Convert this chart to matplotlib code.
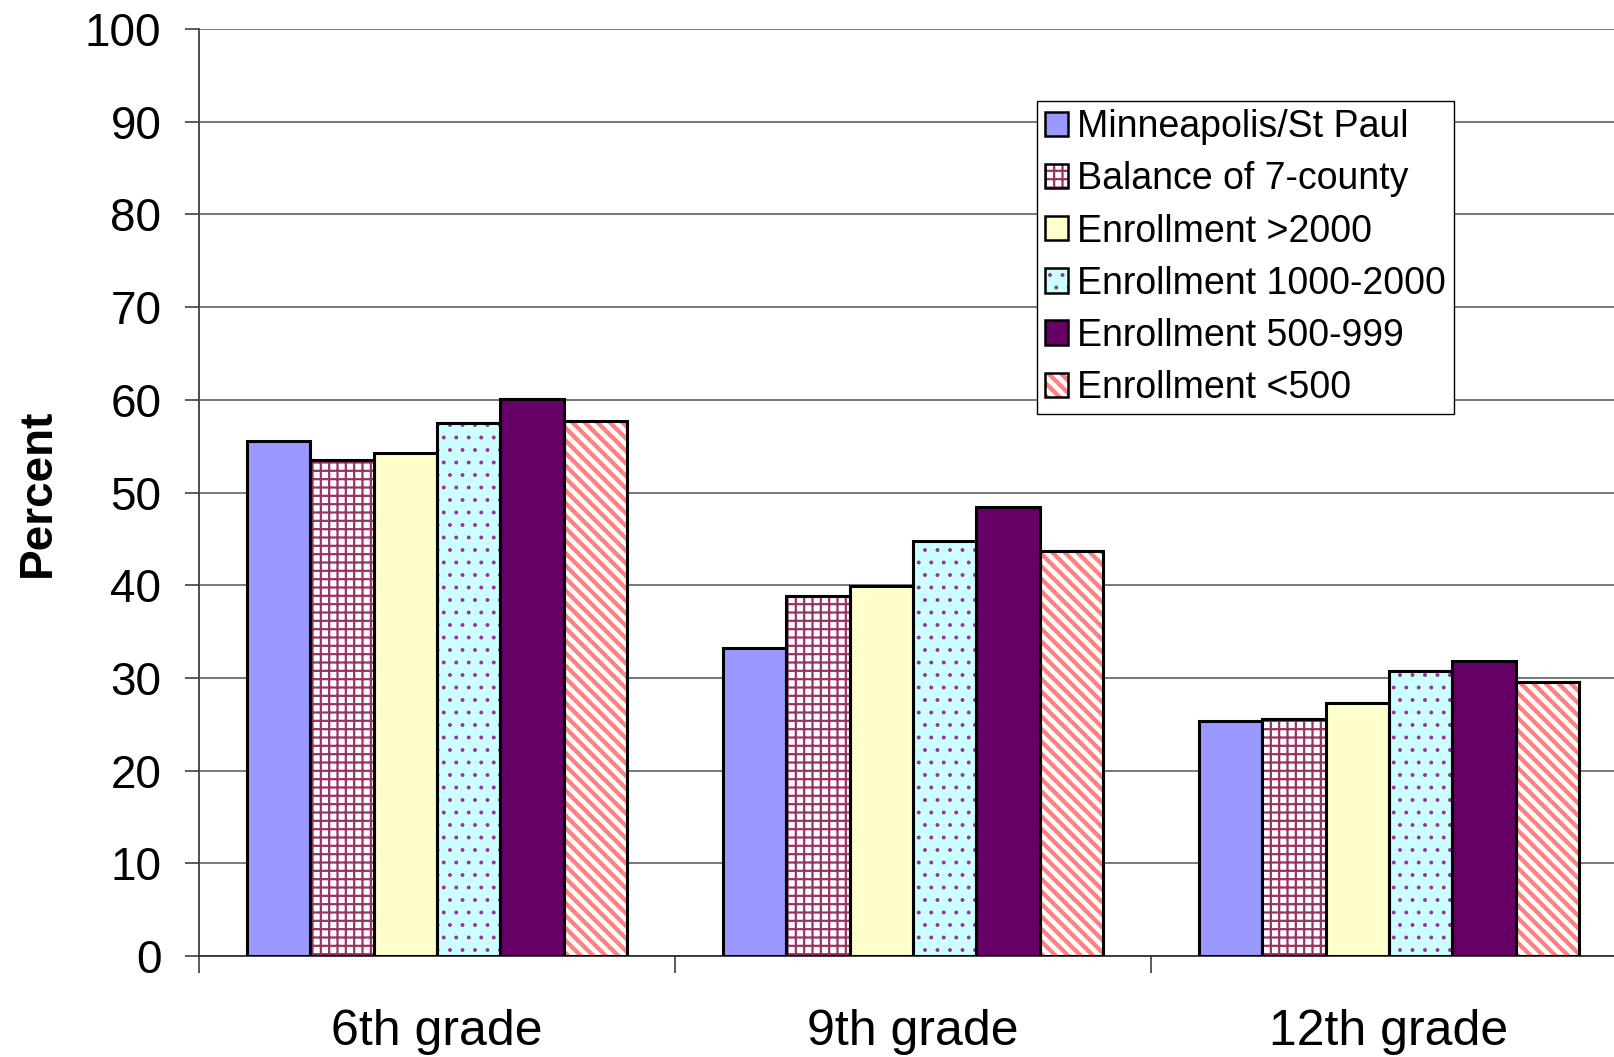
import matplotlib
matplotlib.use("Agg")
import matplotlib.pyplot as plt
import matplotlib.colors as mcolors
import matplotlib.hatch as mhatch
from matplotlib.patches import Patch
import numpy as np

categories = ["6th grade", "9th grade", "12th grade"]
series_names = ["Minneapolis/St Paul", "Balance of 7-county", "Enrollment >2000",
                "Enrollment 1000-2000", "Enrollment 500-999", "Enrollment <500"]
msp = [55.6, 33.2, 25.4]
balance = [53.5, 38.8, 25.6]
enr_2000 = [54.3, 39.9, 27.3]
enr_1000 = [57.5, 44.8, 30.7]
enr_500 = [60.1, 48.4, 31.8]
enr_lt500 = [57.7, 43.7, 29.6]
yticks = [0, 10, 20, 30, 40, 50, 60, 70, 80, 90, 100]

series = [msp, balance, enr_2000, enr_1000, enr_500, enr_lt500]
faces = ["#9999FF", "white", "#FFFFCC", "#CCFFFF", "#660066", "white"]
hatches = [None, "++", None, ".", None, "\\"]
hatch_cols = [None, "#993366", None, "#993399", None, "#FF8080"]
hatch_lws = [None, 1.6, None, 1.0, None, 3.1]

# adjusted hatch densities (dots, finer diagonal stripes)
try:
    class _Dots(mhatch.Circles):
        size = 0.1
        filled = True

        def __init__(self, hatch, density):
            self.num_rows = 8 * hatch.count('.')
            super().__init__(hatch, density)

    _ht = mhatch._hatch_types
    _ht[_ht.index(mhatch.SmallFilledCircles)] = _Dots
except Exception:
    pass

try:
    _SE_base = getattr(mhatch, "SouthEastHatch", None) or getattr(mhatch, "SouthWestHatch")

    class _SW(_SE_base):
        def __init__(self, hatch, density):
            super().__init__(hatch, density)
            if self.num_lines:
                self.num_lines = 16 * hatch.count('\\')
                self.num_vertices = (self.num_lines + 1) * 2

    _ht = mhatch._hatch_types
    _ht[_ht.index(_SE_base)] = _SW
except Exception:
    pass

plt.rcParams["font.family"] = ["Liberation Sans", "DejaVu Sans"]

W, H = 1615, 1057
fig = plt.figure(figsize=(W / 100, H / 100), dpi=100)
left, right, top, bottom = 199, 1627, 29, 956
ax = fig.add_axes([left / W, 1 - bottom / H, (right - left) / W, (bottom - top) / H])

n = len(series)
bw = 0.8 / n
x = np.arange(len(categories))
for i, (vals, fc, h, hc, hlw) in enumerate(zip(series, faces, hatches, hatch_cols, hatch_lws)):
    pos = x - 0.4 + bw * (i + 0.5)
    if h is not None:
        plt.rcParams["hatch.color"] = hc
        plt.rcParams["hatch.linewidth"] = hlw
        ax.bar(pos, vals, width=bw, color=fc, hatch=h, edgecolor=hc, linewidth=0, zorder=2)
    else:
        ax.bar(pos, vals, width=bw, color=fc, linewidth=0, zorder=2)
    ax.bar(pos, vals, width=bw, fill=False, edgecolor="black", linewidth=2.2, zorder=3)

ax.set_xlim(-0.5, 2.5)
ax.set_ylim(0, 100)
ax.set_yticks(yticks)
ax.set_yticklabels([str(v) for v in yticks], fontsize=33)
ax.tick_params(axis="y", length=10, width=1.2, color="#404040", pad=17)
ax.yaxis.grid(True, color="#606060", linewidth=1.2, zorder=0)
ax.set_axisbelow(True)

ax.set_xticks(x)
ax.set_xticklabels(categories, fontsize=36)
ax.tick_params(axis="x", length=0, pad=38)
ax.set_xticks([-0.5, 0.5, 1.5, 2.5], minor=True)
ax.tick_params(axis="x", which="minor", length=12, width=1.2, color="#404040")

for s in ["top", "right"]:
    ax.spines[s].set_visible(False)
ax.spines["left"].set_color("#404040")
ax.spines["left"].set_linewidth(1.3)
ax.spines["bottom"].set_color("#303030")
ax.spines["bottom"].set_linewidth(1.3)

ax.set_ylabel("Percent", fontsize=33, fontweight="bold", labelpad=18)

handles = [Patch(facecolor=fc, edgecolor="black", linewidth=1.8) for fc in faces]
leg = fig.legend(handles, series_names, loc="upper left",
                 bbox_to_anchor=(1037 / W, 1 - 101 / H), fontsize=27,
                 frameon=True, fancybox=False, framealpha=1, edgecolor="black",
                 handlelength=0.62, handleheight=0.62, handletextpad=0.22,
                 labelspacing=0.43, borderpad=0.22, borderaxespad=0)
leg.get_frame().set_linewidth(1.0)
for patch, h, hc, hlw in zip(leg.get_patches(), hatches, hatch_cols, hatch_lws):
    if h is not None:
        patch.set_hatch(h)
        patch.set_edgecolor("black")
        patch._hatch_color = mcolors.to_rgba(hc)
        if hasattr(patch, "set_hatch_linewidth"):
            patch.set_hatch_linewidth(hlw)
        elif hasattr(patch, "_hatch_linewidth"):
            patch._hatch_linewidth = hlw

fig.savefig("out.png", dpi=100)
